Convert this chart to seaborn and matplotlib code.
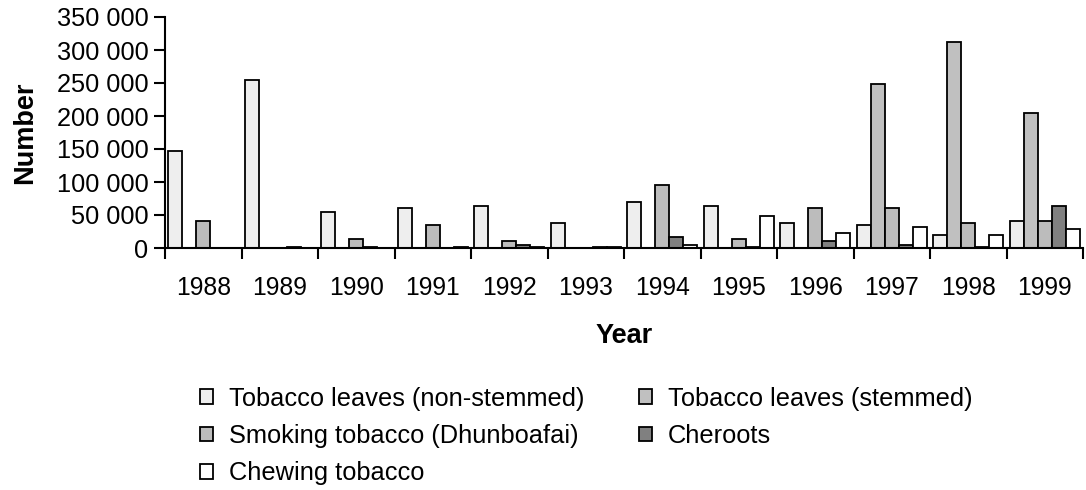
import numpy as np
import matplotlib
matplotlib.use("Agg")
import matplotlib.pyplot as plt
import matplotlib.ticker as mticker
import pandas as pd
import seaborn as sns

years = ["1988", "1989", "1990", "1991", "1992", "1993",
         "1994", "1995", "1996", "1997", "1998", "1999"]
non_stemmed = [147000, 254000, 54000, 60000, 63000, 38000, 69000, 63000, 38000, 35000, 20000, 41000]
stemmed = [0, 0, 0, 0, 0, 0, 0, 0, 0, 248000, 312000, 205000]
smoking = [41000, 0, 14000, 35000, 11000, 0, 96000, 14000, 60000, 60000, 38000, 41000]
cheroots = [0, 1500, 1500, 0, 5000, 1500, 17000, 1500, 11000, 5000, 1500, 63000]
chewing = [0, 0, 0, 1500, 1500, 1500, 5000, 48000, 23000, 32000, 20000, 29000]

series_names = ["Tobacco leaves (non-stemmed)", "Tobacco leaves (stemmed)",
                "Smoking tobacco (Dhunboafai)", "Cheroots", "Chewing tobacco"]
colors = ["#eeeeee", "#c0c0c0", "#bcbcbc", "#808080", "#ffffff"]

df = pd.DataFrame({"Year": years * 5,
                   "Product": np.repeat(series_names, len(years)),
                   "Number": non_stemmed + stemmed + smoking + cheroots + chewing})

sns.set_theme(style="white")
plt.rcParams['font.family'] = ['Liberation Sans', 'DejaVu Sans']
plt.rcParams['text.color'] = 'black'
plt.rcParams['axes.labelcolor'] = 'black'

fig = plt.figure(figsize=(10.86, 4.90), dpi=100)
ax = fig.add_axes([165 / 1086, 1 - 248 / 490, (1083 - 165) / 1086, (248 - 17) / 490])

sns.barplot(data=df, x="Year", y="Number", hue="Product", hue_order=series_names,
            palette=dict(zip(series_names, colors)), width=0.92, dodge=True,
            edgecolor="black", linewidth=1.3, saturation=1, ax=ax, legend=True)

ax.set_ylim(0, 350000)
ax.set_xlim(-0.5, len(years) - 0.5)
ax.yaxis.set_major_locator(mticker.MultipleLocator(50000))
ax.yaxis.set_major_formatter(mticker.FuncFormatter(lambda v, p: f"{int(v):,}".replace(",", " ")))
ax.set_xticks(np.arange(-0.5, len(years)), minor=True)
ax.tick_params(axis="x", which="major", length=0, pad=20, labelsize=17.8, labelcolor="black")
ax.tick_params(axis="x", which="minor", length=8, width=1.5, direction="out", color="black", bottom=True)
ax.tick_params(axis="y", length=8, width=1.5, direction="out", color="black", left=True,
               labelsize=18.3, labelcolor="black", pad=4)

for s in ["top", "right"]:
    ax.spines[s].set_visible(False)
for s in ["left", "bottom"]:
    ax.spines[s].set_color("black")
    ax.spines[s].set_linewidth(1.5)

ax.set_xlabel("Year", fontsize=19.5, fontweight="bold", labelpad=17, color="black")
ax.set_ylabel("Number", fontsize=19.5, fontweight="bold", labelpad=13, color="black")

handles, labels = ax.get_legend_handles_labels()
ax.get_legend().remove()
order = [0, 2, 4, 1, 3]
fig.legend([handles[i] for i in order], [labels[i] for i in order],
           loc="upper left", bbox_to_anchor=(187 / 1086, 1 - 374 / 490), ncol=2,
           frameon=False, fontsize=18.3, handlelength=0.52, handleheight=0.52,
           handletextpad=0.62, columnspacing=2.15, labelspacing=0.52, borderpad=0,
           labelcolor="black")

fig.savefig("out.png", dpi=100)
